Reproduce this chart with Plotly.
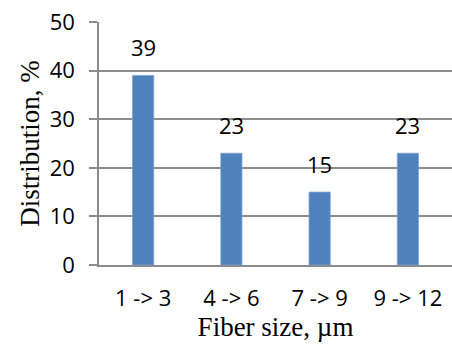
import plotly.graph_objects as go

# Fiber size distribution
categories = ["1 -> 3", "4 -> 6", "7 -> 9", "9 -> 12"]
distribution = [39, 23, 15, 23]
y_ticks = [0, 10, 20, 30, 40, 50]

bar_color = "#4F81BD"
grid_color = "#8C8C8C"
sans = "Open Sans, Liberation Sans, sans-serif"
serif = "Liberation Serif, Times New Roman, serif"

fig = go.Figure(
    go.Bar(
        x=categories,
        y=distribution,
        marker=dict(color=bar_color, line=dict(color="#7FA3D0", width=0.8)),
        width=0.24,
    )
)

# value labels above each bar
for cat, val in zip(categories, distribution):
    fig.add_annotation(
        x=cat, y=val, text=str(val), showarrow=False,
        yanchor="bottom", yshift=11,
        font=dict(family=sans, size=22, color="#000000"),
    )

fig.update_layout(
    width=452, height=347,
    margin=dict(l=99, r=0, t=22, b=82),
    paper_bgcolor="white", plot_bgcolor="white",
    showlegend=False,
    bargap=0.76,
)

fig.update_xaxes(
    showgrid=False,
    showline=True, linecolor=grid_color, linewidth=1.5,
    ticks="", ticklabelstandoff=13,
    tickfont=dict(family=sans, size=22, color="#000000"),
    title=dict(text="Fiber size, µm", font=dict(family=serif, size=27, color="#000000"), standoff=0),
)

fig.update_yaxes(
    range=[0, 50], tickvals=y_ticks,
    showgrid=True, gridcolor=grid_color, gridwidth=1.5,
    showline=True, linecolor=grid_color, linewidth=1.5,
    ticks="outside", ticklen=8, tickcolor=grid_color, tickwidth=1.5,
    ticklabelstandoff=10,
    tickfont=dict(family=sans, size=22, color="#000000"),
    zeroline=False,
    title=dict(text="Distribution, %", font=dict(family=serif, size=27, color="#000000"), standoff=2),
)

fig.write_html("out.html")
